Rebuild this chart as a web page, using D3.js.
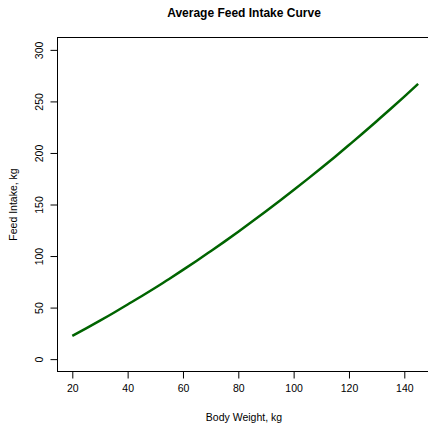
<!DOCTYPE html>
<html>
<head>
<meta charset="utf-8">
<script src="https://cdn.jsdelivr.net/npm/d3@7"></script>
<style>
  html, body { margin: 0; padding: 0; background: #fff; }
  svg { display: block; }
  text { font-family: "Liberation Sans", Arial, Helvetica, sans-serif; fill: #000; }
</style>
</head>
<body>
<svg id="chart" width="428" height="424"></svg>
<script>
// Data
const bodyWeight = [20, 25, 30, 35, 40, 45, 50, 55, 60, 65, 70, 75, 80, 85, 90, 95, 100, 105, 110, 115, 120, 125, 130, 135, 140, 145];
const feedIntake = [22.5, 29.8, 37.3, 45.0, 53.0, 61.0, 69.3, 77.8, 86.6, 95.5, 104.7, 114.0, 123.6, 133.4, 143.4, 153.6, 164.0, 174.6, 185.4, 196.4, 207.7, 219.1, 230.8, 242.6, 254.7, 267.0];
const xTicks = [20, 40, 60, 80, 100, 120, 140];
const yTicks = [0, 50, 100, 150, 200, 250, 300];
const title = "Average Feed Intake Curve";
const xTitle = "Body Weight, kg";
const yTitle = "Feed Intake, kg";

const svg = d3.select("#chart");
const pL = 57.5, pR = 432, pT = 37.5, pB = 371.5;

const x = d3.scaleLinear().domain([15, 150]).range([58.47, 431.97]);
const y = d3.scaleLinear().domain([-12, 312]).range([pB, pT]);

// plot box
svg.append("rect")
  .attr("x", pL).attr("y", pT)
  .attr("width", pR - pL).attr("height", pB - pT)
  .attr("fill", "none").attr("stroke", "#000").attr("stroke-width", 1);

// x axis
const gx = svg.append("g").attr("transform", `translate(0,${pB})`)
  .call(d3.axisBottom(x).tickValues(xTicks).tickSize(7).tickPadding(6).tickFormat(d3.format("d")));
gx.select(".domain").attr("d", `M${x(20)},0H${x(140)}`).attr("stroke", "#000");
gx.selectAll(".tick line").attr("stroke", "#000");
gx.selectAll(".tick text").attr("font-size", "10.5px").attr("font-family", "Liberation Sans, Arial, sans-serif").attr("fill", "#000");

// y axis
const gy = svg.append("g").attr("transform", `translate(${pL},0)`)
  .call(d3.axisLeft(y).tickValues(yTicks).tickSize(7).tickFormat(d3.format("d")));
gy.select(".domain").attr("d", `M0,${y(0)}V${y(300)}`).attr("stroke", "#000");
gy.selectAll(".tick line").attr("stroke", "#000");
gy.selectAll(".tick text")
  .attr("font-size", "10.5px").attr("font-family", "Liberation Sans, Arial, sans-serif").attr("fill", "#000")
  .attr("x", null).attr("dy", null)
  .attr("text-anchor", "middle")
  .attr("transform", "translate(-15,0) rotate(-90)");

// curve
const line = d3.line().x((d, i) => x(bodyWeight[i])).y(d => y(d)).curve(d3.curveMonotoneX);
svg.append("path")
  .datum(feedIntake)
  .attr("d", line)
  .attr("fill", "none")
  .attr("stroke", "#006400")
  .attr("stroke-width", 2.5)
  .attr("stroke-linecap", "butt");

// titles
svg.append("text").attr("x", 244).attr("y", 17)
  .attr("text-anchor", "middle").attr("font-size", "12px").attr("font-weight", "bold").text(title);
svg.append("text").attr("x", 244).attr("y", 421)
  .attr("text-anchor", "middle").attr("font-size", "10.5px").text(xTitle);
svg.append("text").attr("transform", `translate(17,${(pT + pB) / 2}) rotate(-90)`)
  .attr("text-anchor", "middle").attr("font-size", "10.5px").text(yTitle);
</script>
</body>
</html>
